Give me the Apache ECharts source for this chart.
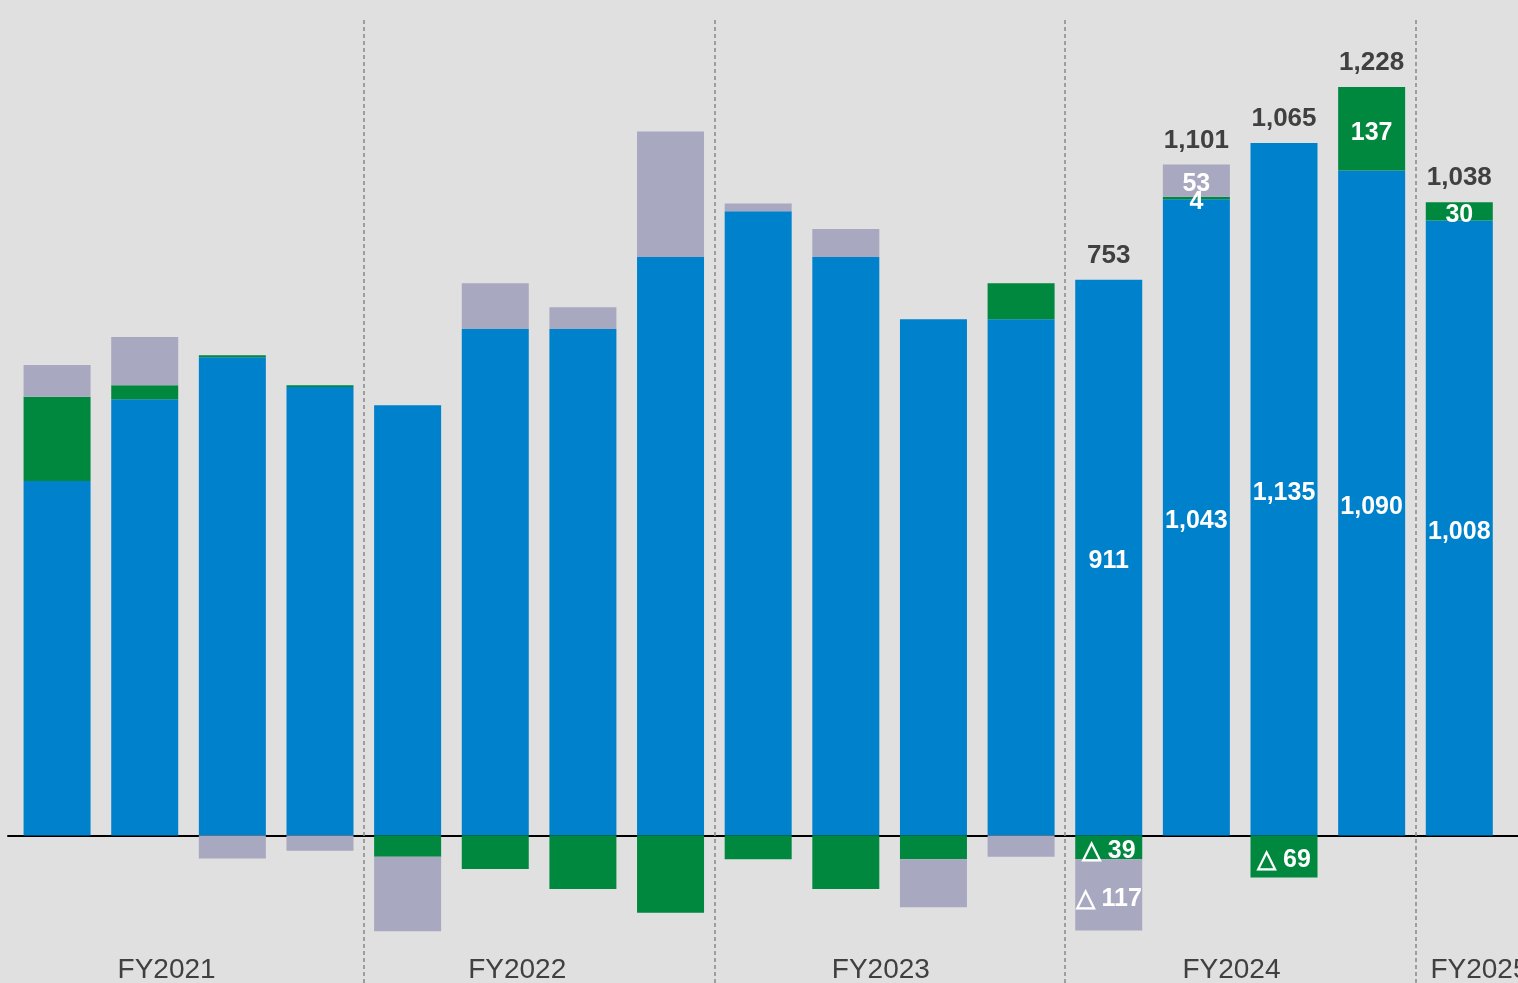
<!DOCTYPE html>
<html>
<head>
<meta charset="utf-8">
<title>FY2021-FY2025</title>
<script src="https://cdn.jsdelivr.net/npm/echarts@6/dist/echarts.min.js"></script>
<style>
  html, body { margin: 0; padding: 0; background: #e0e0e0; }
  #chart { width: 1518px; height: 983px; }
</style>
</head>
<body>
<div id="chart"></div>
<script>
const groups = ['FY2021', 'FY2022', 'FY2023', 'FY2024', 'FY2025']
const groupSizes = [4, 4, 4, 4, 1]
const blue = [581, 715, 784, 735, 705, 830, 830, 948, 1023, 948, 846, 846, 911, 1043, 1135, 1090, 1008]
const green = [138, 23, 3, 3, -35, -55, -88, -127, -39, -88, -39, 59, -39, 4, -69, 137, 30]
const gray = [52, 79, -38, -25, -122, 75, 36, 206, 13, 46, -79, -35, -117, 53, 0, 0, 0]
const totals = [null, null, null, null, null, null, null, null, null, null, null, null, 753, 1101, 1065, 1228, 1038]
// group names sit a little off the group centre in the original, in bar-index units
const groupLabelAt = [1.25, 5.25, 9.4, 13.4, 16.23]
const firstLabeled = 12

const font = 'Arial, "Liberation Sans", sans-serif'

function fmt(v) {
  const s = Math.abs(v).toLocaleString('en-US')
  return v < 0 ? '△ ' + s : s
}

function innerLabel(p) {
  const v = p.value[0]
  if (p.dataIndex < firstLabeled || !v) return ''
  return fmt(v)
}

const dividers = []
let count = 0
groupSizes.slice(0, -1).forEach(s => {
  count += s
  dividers.push({ xAxis: count - 0.5 })
})

// value first so the stack runs on y, the bar's slot second
const pairs = arr => arr.map((v, i) => [v, i])
const stackTop = blue.map((b, i) => b + Math.max(green[i], 0) + Math.max(gray[i], 0))
const encode = { x: 1, y: 0 }

const innerText = {
  show: true,
  position: 'inside',
  offset: [0, 4],
  formatter: innerLabel,
  color: '#fff',
  fontSize: 25,
  fontWeight: 'bold',
  fontFamily: font
}

const chart = echarts.init(document.getElementById('chart'))
chart.setOption({
  backgroundColor: '#e0e0e0',
  animation: false,
  grid: { left: 8, right: 0, top: 18, bottom: 0, containLabel: false, outerBoundsMode: 'none' },
  xAxis: [
    {
      type: 'value',
      min: -0.56,
      max: 16.67,
      axisLine: { onZero: true, lineStyle: { color: '#000', width: 2 } },
      axisTick: { show: false },
      axisLabel: { show: false },
      splitLine: { show: false }
    },
    {
      type: 'value',
      position: 'bottom',
      min: -0.56,
      max: 16.67,
      axisLine: { show: false },
      axisTick: { show: false },
      splitLine: { show: false },
      axisLabel: {
        inside: true,
        margin: -1,
        customValues: groupLabelAt,
        formatter: v => groups[groupLabelAt.indexOf(v)] || '',
        color: '#404040',
        fontSize: 28,
        fontFamily: font
      }
    }
  ],
  yAxis: { type: 'value', min: -242, max: 1340, show: false },
  series: [
    {
      name: 'blue',
      type: 'bar',
      stack: 'q',
      barWidth: 67,
      data: pairs(blue),
      encode: encode,
      itemStyle: { color: '#0081cc' },
      label: innerText,
      markLine: {
        silent: true,
        symbol: 'none',
        label: { show: false },
        lineStyle: { color: '#888', type: [4, 3], width: 1.5 },
        data: dividers
      }
    },
    {
      name: 'green',
      type: 'bar',
      stack: 'q',
      barWidth: 67,
      data: pairs(green),
      encode: encode,
      itemStyle: { color: '#00883f' },
      label: innerText
    },
    {
      name: 'gray',
      type: 'bar',
      stack: 'q',
      barWidth: 67,
      data: pairs(gray),
      encode: encode,
      itemStyle: { color: '#a8a8c0' },
      label: innerText
    },
    {
      name: 'total',
      type: 'bar',
      barWidth: 67,
      barGap: '-100%',
      data: pairs(stackTop),
      encode: encode,
      itemStyle: { color: 'transparent' },
      label: {
        show: true,
        position: 'top',
        distance: 11,
        formatter: p => totals[p.dataIndex] == null ? '' : totals[p.dataIndex].toLocaleString('en-US'),
        color: '#404040',
        fontSize: 26,
        fontWeight: 'bold',
        fontFamily: font
      }
    }
  ]
})
</script>
</body>
</html>
